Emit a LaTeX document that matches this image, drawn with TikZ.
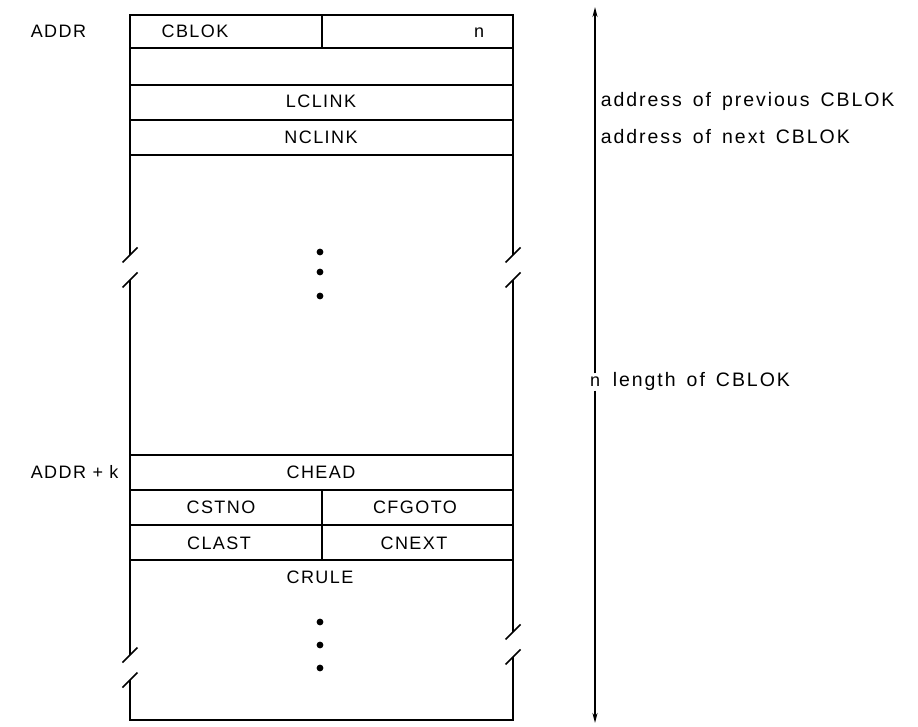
\documentclass[tikz,border=0pt]{standalone}
\usepackage{fontspec}
\setmainfont{Liberation Sans}[LetterSpace=8]
\newfontfamily\annfont{Liberation Sans}[LetterSpace=10,WordSpace=1.5]
\usetikzlibrary{arrows.meta}
\begin{document}
\begin{tikzpicture}[x=1pt,y=-1pt,line width=1.6pt,
  lbl/.style={inner sep=0pt,font=\fontsize{18}{21}\selectfont},
  lft/.style={lbl,anchor=west},
  ann/.style={inner sep=0pt,anchor=west,font=\annfont\fontsize{19.5}{22}\selectfont},
  dotmark/.style={fill=black,draw=none},
  brk/.style={line width=1.6pt},
  dim/.style={line width=1.6pt,-{Stealth[length=10pt,width=5pt]}}]
\useasboundingbox (0,0) rectangle (918,727);
\newcommand{\brkmark}[2]{\draw[brk] (#1-7.5,#2+7.5) -- (#1+7.5,#2-7.5);}
% outer sides
\draw (130,255) -- (130,15) -- (513,15) -- (513,255);
\draw (130,280) -- (130,655);
\draw (513,280) -- (513,632);
\draw (130,680) -- (130,720) -- (513,720) -- (513,657);
\brkmark{130}{255}\brkmark{130}{280}
\brkmark{513}{255}\brkmark{513}{280}
\brkmark{130}{655}\brkmark{130}{680}
\brkmark{513}{632}\brkmark{513}{657}
% row lines
\foreach \y in {48,85,120,155,455,490,525,560} \draw (130,\y) -- (513,\y);
\draw (322,15) -- (322,48);
\draw (322,490) -- (322,560);
% texts in box
\node[lft] (addr) at (30,31) {ADDR};
\node[lbl] (cblok) at (195,31) {CBLOK};
\node[lbl] (nfield) at (479,33) {n};
\node[lbl] (lclink) at (321,101) {LCLINK};
\node[lbl] (nclink) at (321,137) {NCLINK};
\node[lft] (addrk) at (30,472) {ADDR + k};
\node[lbl] (chead) at (321,472) {CHEAD};
\node[lbl] (cstno) at (221,507) {CSTNO};
\node[lbl] (cfgoto) at (415,507) {CFGOTO};
\node[lbl] (clast) at (219,543) {CLAST};
\node[lbl] (cnext) at (414,543) {CNEXT};
\node[lbl] (crule) at (320,577) {CRULE};
% dots
\foreach \y in {252,272,296} \fill[dotmark] (320,\y) circle (3.4);
\foreach \y in {622,645,668} \fill[dotmark] (320,\y) circle (3.4);
% dimension arrow
\node[lbl,inner sep=3pt] (nlen) at (595,382) {n};
\coordinate (atop) at (595,7);
\coordinate (abot) at (595,723);
\draw[dim] (nlen) -- (atop);
\draw[dim] (nlen) -- (abot);
\node[ann] (lenlbl) at (612,381) {length of CBLOK};
\node[ann] (prev) at (600,101) {address of previous CBLOK};
\node[ann] (next) at (600,137) {address of next CBLOK};
\end{tikzpicture}
\end{document}
